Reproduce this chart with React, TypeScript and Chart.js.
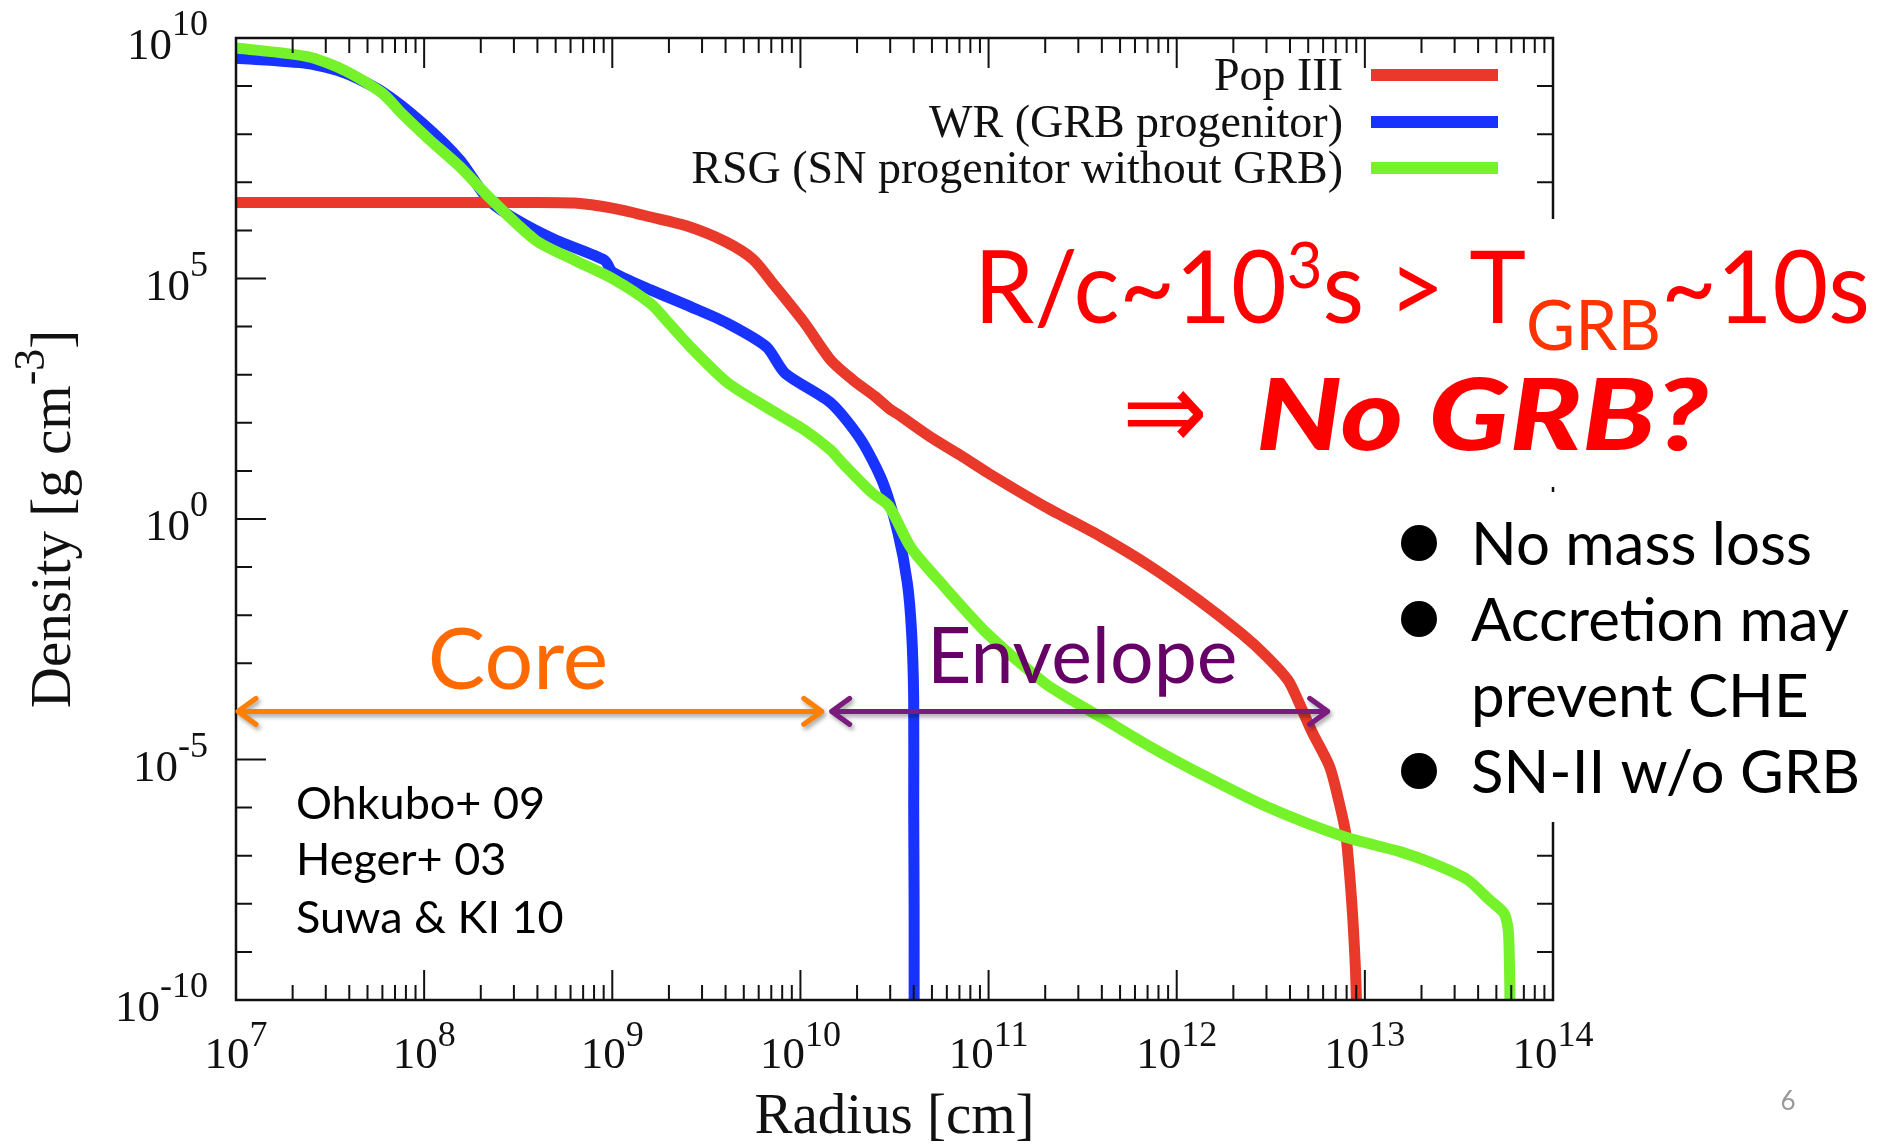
import { useEffect, useRef } from 'react';
import { Chart, registerables } from 'chart.js';

Chart.register(...registerables);

// ---------------- data (radius in cm, density in g cm^-3) ----------------
const popIIIRadius = [1e7, 3.2e7, 1e8, 3.2e8, 6.3e8, 1e9, 1.6e9, 2.5e9, 4e9, 5.6e9, 7.2e9, 1.05e10, 1.45e10, 1.9e10, 2.5e10, 3.0e10, 3.3e10, 4.9e10, 7.1e10, 1e11, 2e11, 4e11, 7.2e11, 1.32e12, 2.2e12, 3.0e12, 3.9e12, 4.4e12, 5.2e12, 6.5e12, 7.2e12, 7.9e12, 8.5e12, 8.9e12, 9.1e12];
const popIIIDensity = [3.8e6, 3.8e6, 3.8e6, 3.8e6, 3.7e6, 2.9e6, 1.9e6, 1.23e6, 5.8e5, 2.5e5, 7.6e4, 1.2e4, 2.0e3, 7.8e2, 3.5e2, 1.9e2, 1.5e2, 51, 21, 8.9, 1.8, 0.42, 0.105, 2.0e-2, 4.2e-3, 1.4e-3, 4.5e-4, 1.74e-4, 4.0e-5, 7.1e-6, 1.6e-6, 3.0e-7, 1.2e-8, 4.9e-10, 3.2e-11];

const wrRadius = [1e7, 2.4e7, 3.8e7, 6.0e7, 9.8e7, 1.55e8, 2.2e8, 3.1e8, 5.0e8, 9.1e8, 1.0e9, 1.6e9, 2.6e9, 4.1e9, 6.6e9, 8.3e9, 1.45e10, 2.1e10, 2.75e10, 3.3e10, 3.7e10, 3.9e10, 4.0e10, 4.0e10, 4.02e10, 4.02e10];
const wrDensity = [3.8e9, 2.95e9, 1.86e9, 7.6e8, 1.7e8, 2.9e7, 4.3e6, 1.66e6, 6.3e5, 2.4e5, 1.38e5, 5.8e4, 2.6e4, 1.17e4, 3.8e3, 1.07e3, 2.6e2, 44, 5.6, 0.51, 4.7e-2, 4.3e-3, 1.74e-4, 1e-6, 1e-8, 3.2e-11];

const rsgRadius = [1e7, 2.4e7, 3.8e7, 6.0e7, 7.6e7, 1.07e8, 1.55e8, 2.2e8, 3.9e8, 6.3e8, 1e9, 1.6e9, 2.0e9, 2.6e9, 4.1e9, 6.6e9, 1.05e10, 1.45e10, 1.66e10, 2.4e10, 2.95e10, 3.85e10, 5.4e10, 9.8e10, 2.0e11, 2.75e11, 3.9e11, 7.2e11, 1.33e12, 3.0e12, 7.7e12, 1.55e13, 2.3e13, 3.5e13, 4.6e13, 5.5e13, 5.8e13, 5.93e13];
const rsgDensity = [6.2e9, 4.1e9, 2.1e9, 7.1e8, 2.7e8, 7.6e7, 2.1e7, 5.0e6, 6.3e5, 2.4e5, 1e5, 3.0e4, 1.17e4, 3.8e3, 6.8e2, 2.1e2, 71, 27, 15, 3.5, 1.86, 0.26, 5.4e-2, 4.2e-3, 3.8e-4, 1.74e-4, 7.8e-5, 1.86e-5, 5.1e-6, 1.05e-6, 2.5e-7, 1.2e-7, 6.9e-8, 3.2e-8, 1.2e-8, 6.3e-9, 2.5e-9, 3.2e-11];

const seriesLabels = ['Pop III', 'WR (GRB progenitor)', 'RSG (SN progenitor without GRB)'];
const seriesColors = ['#E8392A', '#1833FF', '#76F22A'];

// tick labels (exponents of 10)
const xLabelExponents = [7, 8, 9, 10, 11, 12, 13, 14];
const yLabelExponents = [10, 5, 0, -5, -10];

// annotation values
const coreSpan = [1e7, 1.33e10];
const envelopeSpan = [1.43e10, 6.5e12];
const arrowDensity = 1e-4;
const referenceLines = ['Ohkubo+ 09', 'Heger+ 03', 'Suwa & KI 10'];
const bulletLines = [
  { text: 'No mass loss', bullet: true },
  { text: 'Accretion may', bullet: true },
  { text: 'prevent CHE', bullet: false },
  { text: 'SN-II w/o GRB', bullet: true },
];

const SERIF = '"Liberation Serif", "Times New Roman", serif';
const SANS = 'Lato, "Open Sans", "DejaVu Sans", sans-serif';

type Part = { t: string; font: string; dy?: number; color?: string };

function measureParts(ctx: CanvasRenderingContext2D, parts: Part[]) {
  return parts.map((p) => {
    ctx.font = p.font;
    return ctx.measureText(p.t).width;
  });
}

function drawParts(ctx: CanvasRenderingContext2D, parts: Part[], x: number, y: number, align: 'left' | 'center' | 'right') {
  const widths = measureParts(ctx, parts);
  const total = widths.reduce((s, w) => s + w, 0);
  let cx = align === 'left' ? x : align === 'center' ? x - total / 2 : x - total;
  ctx.textAlign = 'left';
  ctx.textBaseline = 'alphabetic';
  parts.forEach((p, i) => {
    ctx.font = p.font;
    if (p.color) ctx.fillStyle = p.color;
    ctx.fillText(p.t, cx, y + (p.dy || 0));
    cx += widths[i];
  });
  return total;
}

// draws parts from x so that they span targetWidth (horizontal squeeze/stretch only)
function drawPartsFit(ctx: CanvasRenderingContext2D, parts: Part[], x: number, y: number, targetWidth: number) {
  const total = measureParts(ctx, parts).reduce((s, w) => s + w, 0);
  ctx.save();
  ctx.translate(x, y);
  ctx.scale(targetWidth / total, 1);
  drawParts(ctx, parts, 0, 0, 'left');
  ctx.restore();
}

function drawDoubleArrow(ctx: CanvasRenderingContext2D, x1: number, x2: number, yy: number, color: string) {
  ctx.save();
  ctx.strokeStyle = color;
  ctx.lineWidth = 5;
  ctx.lineCap = 'round';
  ctx.lineJoin = 'round';
  ctx.shadowColor = 'rgba(0,0,0,0.35)';
  ctx.shadowBlur = 4;
  ctx.shadowOffsetX = 2;
  ctx.shadowOffsetY = 3;
  ctx.beginPath();
  ctx.moveTo(x1 + 2, yy);
  ctx.lineTo(x2 - 2, yy);
  ctx.moveTo(x1 + 20, yy - 13);
  ctx.lineTo(x1 + 2, yy);
  ctx.lineTo(x1 + 20, yy + 13);
  ctx.moveTo(x2 - 20, yy - 13);
  ctx.lineTo(x2 - 2, yy);
  ctx.lineTo(x2 - 20, yy + 13);
  ctx.stroke();
  ctx.restore();
}

const overlayPlugin = {
  id: 'slideOverlay',
  afterDatasetsDraw(chart: any) {
    const { ctx, chartArea: a } = chart;
    const xs = chart.scales.x;
    const ys = chart.scales.y;
    ctx.save();

    // frame
    ctx.strokeStyle = '#111';
    ctx.lineWidth = 2.5;
    ctx.strokeRect(a.left, a.top, a.right - a.left, a.bottom - a.top);

    // x ticks (inward, bottom + top)
    ctx.lineWidth = 2;
    ctx.beginPath();
    const lastX = xLabelExponents[xLabelExponents.length - 1];
    for (let e = xLabelExponents[0]; e <= lastX; e++) {
      for (let m = 1; m <= 9; m++) {
        if (e === lastX && m > 1) break;
        const px = xs.getPixelForValue(m * Math.pow(10, e));
        const len = m === 1 ? 30 : 15;
        ctx.moveTo(px, a.bottom);
        ctx.lineTo(px, a.bottom - len);
        ctx.moveTo(px, a.top);
        ctx.lineTo(px, a.top + len);
      }
    }
    // y ticks (every decade, long at labelled ones)
    for (let e = -10; e <= 10; e++) {
      const py = ys.getPixelForValue(Math.pow(10, e));
      const len = yLabelExponents.includes(e) ? 30 : 16;
      ctx.moveTo(a.left, py);
      ctx.lineTo(a.left + len, py);
      ctx.moveTo(a.right, py);
      ctx.lineTo(a.right - len, py);
    }
    ctx.stroke();

    // tick labels
    ctx.fillStyle = '#111';
    const baseFont = `45px ${SERIF}`;
    const supFont = `36px ${SERIF}`;
    xLabelExponents.forEach((e) => {
      const px = xs.getPixelForValue(Math.pow(10, e));
      drawParts(ctx, [
        { t: '10', font: baseFont },
        { t: String(e), font: supFont, dy: -22 },
      ], px, a.bottom + 68, 'center');
    });
    yLabelExponents.forEach((e) => {
      const py = ys.getPixelForValue(Math.pow(10, e));
      drawParts(ctx, [
        { t: '10', font: baseFont },
        { t: String(e), font: supFont, dy: -24 },
      ], a.left - 28, py + 21, 'right');
    });

    // axis titles
    drawParts(ctx, [{ t: 'Radius [cm]', font: `57px ${SERIF}` }], (a.left + a.right) / 2, 1133, 'center');
    ctx.save();
    ctx.translate(70, (a.top + a.bottom) / 2);
    ctx.rotate(-Math.PI / 2);
    drawParts(ctx, [
      { t: 'Density [g cm', font: `57px ${SERIF}` },
      { t: '-3', font: `44px ${SERIF}`, dy: -26 },
      { t: ']', font: `57px ${SERIF}` },
    ], 0, 0, 'center');
    ctx.restore();

    // legend (inside plot, gnuplot style)
    const legendY = [75, 122, 168];
    chart.data.datasets.forEach((ds: any, i: number) => {
      ctx.fillStyle = '#111';
      drawParts(ctx, [{ t: ds.label, font: `46px ${SERIF}` }], 1343, legendY[i] + 15, 'right');
      ctx.strokeStyle = ds.borderColor;
      ctx.lineWidth = 12;
      ctx.lineCap = 'butt';
      ctx.beginPath();
      ctx.moveTo(1371, legendY[i]);
      ctx.lineTo(1498, legendY[i]);
      ctx.stroke();
    });

    // core / envelope arrows
    const ay = ys.getPixelForValue(arrowDensity);
    drawDoubleArrow(ctx, xs.getPixelForValue(coreSpan[0]), xs.getPixelForValue(coreSpan[1]), ay, '#FF8000');
    drawDoubleArrow(ctx, xs.getPixelForValue(envelopeSpan[0]), xs.getPixelForValue(envelopeSpan[1]), ay, '#7A1C7E');
    ctx.fillStyle = '#FF6A00';
    drawParts(ctx, [{ t: 'Core', font: `86px ${SANS}` }], 518, 689, 'center');
    ctx.fillStyle = '#660066';
    drawParts(ctx, [{ t: 'Envelope', font: `77px ${SANS}` }], 927, 683, 'left');

    // references
    ctx.fillStyle = '#000';
    const refBase = [819, 875, 933];
    referenceLines.forEach((t, i) => drawParts(ctx, [{ t, font: `45px ${SANS}` }], 296, refBase[i], 'left'));

    // white boxes behind slide text
    ctx.fillStyle = '#fff';
    ctx.fillRect(1380, 219, 505, 268);
    ctx.fillRect(1390, 492, 495, 330);

    // red statement
    const big = `100px ${SANS}`;
    drawPartsFit(ctx, [
      { t: 'R/c~10', font: big, color: '#FF0000' },
      { t: '3', font: `64px ${SANS}`, dy: -35, color: '#FF0000' },
      { t: 's > T', font: big, color: '#FF0000' },
      { t: 'GRB', font: `70px ${SANS}`, dy: 27, color: '#FF3300' },
      { t: '~10s', font: big, color: '#FF0000' },
    ], 974, 323, 896);
    ctx.fillStyle = '#FF0000';
    drawPartsFit(ctx, [{ t: '\u21D2', font: `110px "DejaVu Sans", ${SANS}`, color: '#FF0000' }], 1122, 449, 86);
    drawPartsFit(ctx, [{ t: 'No GRB?', font: `italic 900 100px ${SANS}`, color: '#FF0000' }], 1256, 450, 452);

    // bullet list
    const bulletBase = [565, 641, 717, 793];
    ctx.fillStyle = '#000';
    bulletLines.forEach((b, i) => {
      if (b.bullet) {
        ctx.beginPath();
        ctx.arc(1419, bulletBase[i] - 22, 18, 0, Math.PI * 2);
        ctx.fill();
      }
      drawParts(ctx, [{ t: b.text, font: `60px ${SANS}` }], 1471, bulletBase[i], 'left');
    });

    // page number
    ctx.fillStyle = '#999';
    drawParts(ctx, [{ t: '6', font: `26px ${SANS}` }], 1788, 1110, 'center');

    ctx.restore();
  },
};

export default function App() {
  const canvasRef = useRef<HTMLCanvasElement | null>(null);

  useEffect(() => {
    const canvas = canvasRef.current;
    if (!canvas) return;
    const radii = [popIIIRadius, wrRadius, rsgRadius];
    const dens = [popIIIDensity, wrDensity, rsgDensity];
    const drawOrder = [2, 3, 1];
    const chart = new Chart(canvas, {
      type: 'line',
      data: {
        datasets: seriesLabels.map((label, i) => ({
          label,
          data: radii[i].map((r, j) => ({ x: r, y: dens[i][j] })),
          borderColor: seriesColors[i],
          backgroundColor: seriesColors[i],
          borderWidth: 11,
          pointRadius: 0,
          tension: 0.25,
          fill: false,
          clip: 0,
          order: drawOrder[i],
          borderJoinStyle: 'round',
        })),
      },
      options: {
        responsive: false,
        animation: false,
        devicePixelRatio: 1,
        layout: { padding: { left: 236, top: 38, right: 332, bottom: 146 } },
        plugins: { legend: { display: false }, tooltip: { enabled: false } },
        events: [],
        scales: {
          x: { type: 'logarithmic', min: 1e7, max: 1e14, display: false },
          y: { type: 'logarithmic', min: 1e-10, max: 1e10, display: false },
        },
      },
      plugins: [overlayPlugin],
    } as any);
    return () => chart.destroy();
  }, []);

  return (
    <div style={{ position: 'absolute', left: 0, top: 0, width: 1885, height: 1146, background: '#fff' }}>
      <canvas ref={canvasRef} width={1885} height={1146} style={{ display: 'block' }} />
    </div>
  );
}
